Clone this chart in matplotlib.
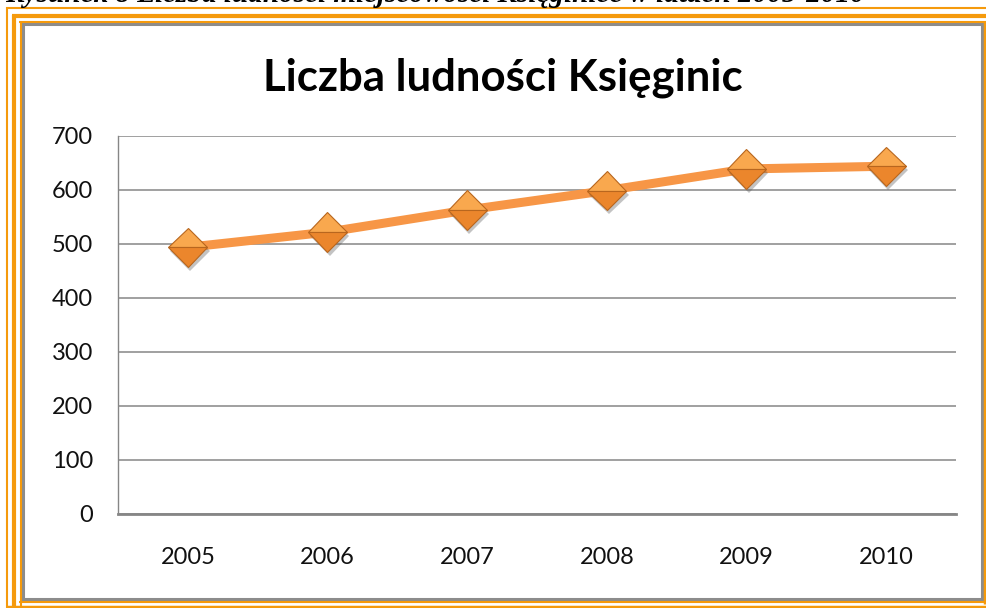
import matplotlib
matplotlib.use("Agg")
import matplotlib.pyplot as plt
from matplotlib.patches import Rectangle
from matplotlib.lines import Line2D
import matplotlib.patheffects as pe

years = ["2005", "2006", "2007", "2008", "2009", "2010"]
population = [494, 522, 563, 599, 639, 644]
y_ticks = [0, 100, 200, 300, 400, 500, 600, 700]
title = "Liczba ludności Księginic"
caption = "Rysunek 8 Liczba ludności miejscowości Księginice w latach 2005-2010"

W, H = 987, 608
fig = plt.figure(figsize=(W / 100, H / 100), dpi=100)
fig.patch.set_facecolor("white")

def fx(px):
    return px / W

def fy(py):
    return 1 - py / H

# clipped caption at top (as in the reference, only its lower part is visible)
fig.text(fx(5), fy(2.5), caption, fontsize=21, fontweight="bold", fontstyle="italic",
         family="Liberation Serif", va="baseline", ha="left", color="black")

orange = "#F59A0C"
def hline(y, x0, x1, lw, c):
    fig.add_artist(Line2D([fx(x0), fx(x1)], [fy(y), fy(y)], lw=lw, color=c,
                          transform=fig.transFigure, solid_capstyle="butt"))

def vline(x, y0, y1, lw, c):
    fig.add_artist(Line2D([fx(x), fx(x)], [fy(y0), fy(y1)], lw=lw, color=c,
                          transform=fig.transFigure, solid_capstyle="butt"))

hline(8, 6, W, 1.5, orange)
vline(7, 7, H, 1.5, orange)
hline(15.5, 12, W, 3.0, orange)
vline(14, 15, H, 3.0, orange)
hline(21.5, 19, W, 1.5, orange)
vline(20.5, 21, H, 1.5, orange)
hline(602, 19, W, 1.5, orange)
hline(606.5, 7, W, 2.5, orange)
vline(985.5, 21, 604, 2.5, orange)

# gray chart border
fig.add_artist(Rectangle((fx(23.5), fy(598.5)), fx(982 - 23.5), (598.5 - 24) / H,
                         transform=fig.transFigure, fill=True, facecolor="white",
                         edgecolor="#8C8C8C", lw=2.2, zorder=-1))

# plot area
left, right, top, bottom = 118, 956, 136, 514
ax = fig.add_axes([fx(left), fy(bottom), fx(right - left), (bottom - top) / H])
ax.set_zorder(2)
ax.set_facecolor("none")
x = list(range(len(years)))
ax.set_xlim(-0.5, len(years) - 0.5)
ax.set_ylim(0, 700)
ax.set_yticks(y_ticks)
ax.set_xticks(x)
ax.set_xticklabels(years)
ax.grid(axis="y", color="#868686", lw=1.1)
ax.set_axisbelow(True)
for s in ["top", "right"]:
    ax.spines[s].set_visible(False)
ax.spines["left"].set_color("#868686")
ax.spines["left"].set_linewidth(1.0)
ax.spines["bottom"].set_color("#868686")
ax.spines["bottom"].set_linewidth(2.0)
ax.tick_params(axis="both", length=0, labelsize=17, labelcolor="#111111")
ax.tick_params(axis="y", pad=18)
ax.tick_params(axis="x", pad=24)
for lab in ax.get_xticklabels() + ax.get_yticklabels():
    lab.set_family("Lato")

ax.plot(x, population, color="#F79646", lw=6.5, solid_capstyle="butt", zorder=3)
ax.plot(x, population, ls="none", marker="D", markersize=20, fillstyle="top",
        markerfacecolor="#F9A84E", markerfacecoloralt="#EB862C",
        markeredgecolor="#B8661E", markeredgewidth=0.8, zorder=4,
        path_effects=[pe.SimplePatchShadow(offset=(1.5, -3), shadow_rgbFace="#555555", alpha=0.35),
                      pe.Normal()])

fig.text(fx(503), fy(90), title, fontsize=31.5, fontweight="bold", family="Lato",
         ha="center", va="baseline", color="black", zorder=3)

fig.savefig("out.png", dpi=100)
